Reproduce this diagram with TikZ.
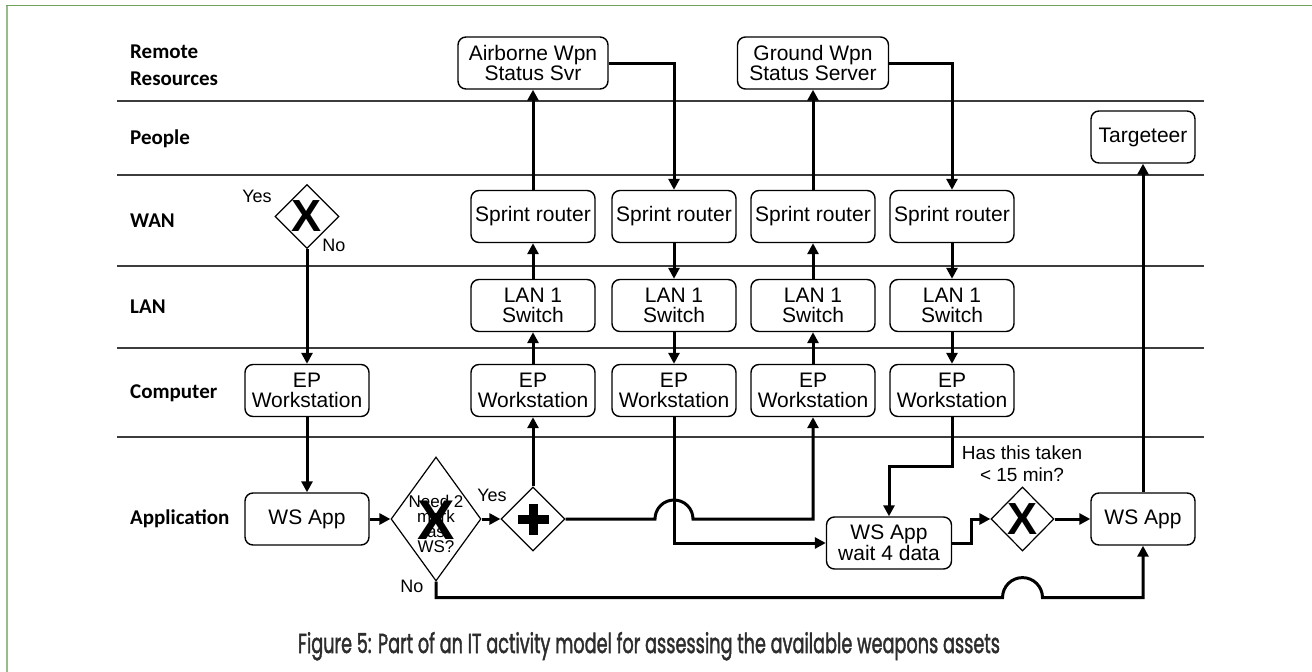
\documentclass[tikz,border=0pt]{standalone}
\usepackage{fontspec}
\setmainfont{Liberation Sans}
\newfontfamily\lanefont{Carlito}
\newfontfamily\capfont{Poppins}[FakeBold=2]
\usepackage{graphicx}
\usepackage{tikz}
\usetikzlibrary{shapes.geometric,arrows.meta,positioning,calc}
\definecolor{frametop}{RGB}{112,160,92}
\definecolor{frameleft}{RGB}{150,188,138}
\definecolor{laneline}{RGB}{60,60,60}
\definecolor{captext}{RGB}{45,45,45}

\begin{document}
\begin{tikzpicture}[
    x=1pt, y=-1pt,
    box/.style={draw, line width=1.4pt, rounded corners=8pt, minimum width=124pt, minimum height=52pt, align=center, inner sep=1pt, font=\fontsize{21}{19.5}\selectfont},
    gate/.style={draw, diamond, line width=1.2pt, inner sep=0pt, minimum width=64pt, minimum height=64pt, font=\bfseries\fontsize{45}{45}\selectfont},
    lane/.style={anchor=west, align=left, inner sep=0pt, font=\lanefont\bfseries\fontsize{21}{27}\selectfont},
    note/.style={inner sep=0pt, align=center, font=\fontsize{18}{22}\selectfont},
    arrow/.style={-{Triangle[length=11pt,width=11pt]}, line width=3pt}
]
\useasboundingbox (0,0) rectangle (1312,672);

% Frame
\draw[frameleft, line width=2pt] (7,672) -- (7,5.5);
\draw[frametop, line width=1.6pt] (6,5.5) -- (1312,5.5);

% Lanes
\foreach \ly in {101,175,266,348,437}
    \draw[laneline, line width=1.3pt] (117,\ly) -- (1204,\ly);

\node[lane] (remote) at (130,65.5) {Remote\\Resources};
\node[lane] (people) at (130,139) {People};
\node[lane] (wan) at (130,221) {WAN};
\node[lane] (lan) at (130,307) {LAN};
\node[lane] (computer) at (130,393) {Computer};
\node[lane] (application) at (130,519) {Application};

% Remote resources and people
\node[box, minimum width=150pt] (air) at (533,63) {Airborne Wpn\\Status Svr};
\node[box, minimum width=151pt] (ground) at (813,63) {Ground Wpn\\Status Server};
\node[box, minimum width=104pt] (targ) at (1143,137) {Targeteer};

% WAN
\node[gate] (gwan) at (307,216.5) {X};
\node[note] (wanyes) at (257,196) {Yes};
\node[note] (wanno) at (334,245) {No};
\node[box] (rt1) at (533,216.5) {Sprint router};
\node[box] (rt2) at (674,216.5) {Sprint router};
\node[box] (rt3) at (813,216.5) {Sprint router};
\node[box] (rt4) at (952,216.5) {Sprint router};

% LAN
\node[box] (sw1) at (533,305.5) {LAN 1\\Switch};
\node[box] (sw2) at (674,305.5) {LAN 1\\Switch};
\node[box] (sw3) at (813,305.5) {LAN 1\\Switch};
\node[box] (sw4) at (952,305.5) {LAN 1\\Switch};

% Computer
\node[box] (ep0) at (307,390.5) {EP\\Workstation};
\node[box] (ep1) at (533,390.5) {EP\\Workstation};
\node[box] (ep2) at (674,390.5) {EP\\Workstation};
\node[box] (ep3) at (813,390.5) {EP\\Workstation};
\node[box] (ep4) at (952,390.5) {EP\\Workstation};

% Application
\node[box] (app1) at (307,519) {WS App};
\node[gate, minimum width=90pt, minimum height=124pt] (need) at (436,519) {};
\node[note, font=\fontsize{17}{15}\selectfont] (needtxt) at (436,524) {Need 2\\mark\\as\\WS?};
\node[inner sep=0pt, font=\bfseries\fontsize{56}{56}\selectfont] (needx) at (436,520) {X};
\node[note] (needyes) at (492,495) {Yes};
\node[note] (needno) at (412,586) {No};
\node[gate] (par) at (533,519) {};
\draw[line width=9pt] ([xshift=-15.5pt]par.center) -- ([xshift=15.5pt]par.center);
\draw[line width=9pt] ([yshift=-15.5pt]par.center) -- ([yshift=15.5pt]par.center);
\node[box, minimum width=125pt] (wait) at (889,543) {WS App\\wait 4 data};
\node[gate, minimum width=63pt] (time) at (1022.5,519) {X};
\node[note, font=\fontsize{19}{22.3}\selectfont] (timeq) at (1022,464) {Has this taken\\< 15 min?};
\node[box, minimum width=104pt] (app2) at (1143,519) {WS App};

% Flow
\draw[arrow] (gwan.south) -- (ep0.north);
\draw[arrow] (ep0.south) -- (app1.north);
\draw[arrow] (app1.east) -- (need.west);
\draw[arrow] (need.east) -- (par.west);
\draw[arrow] (par.north) -- (ep1.south);
\draw[arrow] (ep1.north) -- (sw1.south);
\draw[arrow] (sw1.north) -- (rt1.south);
\draw[arrow] (rt1.north) -- (air.south);
\draw[arrow] (air.east) -| (rt2.north);
\draw[arrow] (rt2.south) -- (sw2.north);
\draw[arrow] (sw2.south) -- (ep2.north);
\draw[arrow] (ep2.south) |- (wait.west);
\draw[arrow] (par.east) -- ($(ep2.south |- par.east)+(-19,0)$) arc[start angle=180, end angle=0, radius=19pt] -| (ep3.south);
\draw[arrow] (ep3.north) -- (sw3.south);
\draw[arrow] (sw3.north) -- (rt3.south);
\draw[arrow] (rt3.north) -- (ground.south);
\draw[arrow] (ground.east) -| (rt4.north);
\draw[arrow] (rt4.south) -- (sw4.north);
\draw[arrow] (sw4.south) -- (ep4.north);
\draw[arrow] (ep4.south) -- ++(0,49) -| (wait.north);
\draw[arrow] (wait.east) -- ++(19,0) |- (time.west);
\draw[arrow] (time.east) -- (app2.west);
\draw[arrow] (app2.north) -- (targ.south);

% No branch
\coordinate (nobend) at ($(need.south)+(0,16)$);
\draw[arrow] (need.south) -- (nobend) -- ($(nobend -| time.south)+(-20,0)$) arc[start angle=180, end angle=0, radius=20pt] -| (app2.south);

% Caption
\node[anchor=base, inner sep=0pt, text=captext] (caption) at (649,653) {\resizebox{702pt}{21pt}{\capfont\fontsize{28}{30}\selectfont Figure 5: Part of an IT activity model for assessing the available weapons assets}};

\end{tikzpicture}
\end{document}
